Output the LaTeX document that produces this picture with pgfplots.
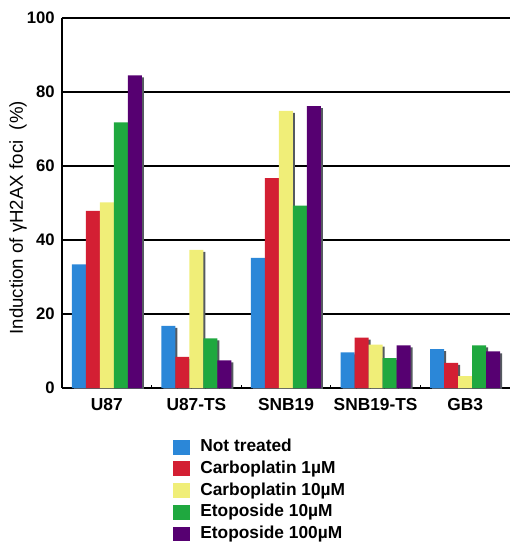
\documentclass[border=0pt]{standalone}
\usepackage{pgfplots}
\pgfplotsset{compat=1.18}
\usepackage{pgfplotstable}
\usepackage{fontspec}
\setmainfont{Liberation Sans}
\definecolor{cblue}{HTML}{2B87D8}
\definecolor{cred}{HTML}{D31F33}
\definecolor{cyellow}{HTML}{F0EE78}
\definecolor{cgreen}{HTML}{1FA83F}
\definecolor{cpurple}{HTML}{560071}
\definecolor{cshadow}{HTML}{555A60}
\pgfplotstableread{
g a b c d e
0 33.4 47.9 50.2 71.8 84.5
1 16.8 8.4 37.3 13.4 7.5
2 35.2 56.7 74.9 49.3 76.2
3 9.6 13.6 11.7 8.1 11.5
4 10.5 6.8 3.2 11.5 9.9
}\data
\pgfplotsset{
  mybar/.style={ybar, bar width=10.5pt, draw=none,
    legend image code/.code={\fill[##1] (0pt,-5.6pt) rectangle (12.75pt,5.6pt);}},
  shbar/.style={ybar, bar width=10.5pt, draw=none, fill=cshadow, yshift=-1.5pt, forget plot},
}
\begin{document}
\begin{tikzpicture}
\begin{axis}[name=ax, scale only axis, width=336pt, height=277.5pt,
  xmin=-0.5, xmax=4.5, ymin=0, ymax=100,
  ytick={0,20,...,100},
  xtick={0,...,4}, xticklabels={U87,U87-TS,SNB19,SNB19-TS,GB3},
  minor xtick={0.5,1.5,2.5,3.5},
  axis x line*=bottom, axis y line*=left,
  axis line style={line width=2pt},
  ymajorgrids, major grid style={black, line width=1.3pt},
  major tick length=0pt, minor tick length=2.5pt, tick align=inside,
  minor tick style={black, line width=0.8pt},
  /pgf/number format/assume math mode=true,
  yticklabel style={font=\bfseries\fontsize{12.5}{14}\selectfont, xshift=-2pt},
  xticklabel style={font=\bfseries\fontsize{13}{15}\selectfont, yshift=-4pt},
  ylabel={Induction of γH2AX foci\ \ (\%)},
  ylabel style={font=\fontsize{14}{16}\selectfont, at={(axis description cs:-0.098,0.46)}, anchor=center},
  legend style={at={(0.239,-0.13)}, anchor=north west, draw=none, fill=none,
    font=\bfseries\fontsize{13}{15}\selectfont, row sep=4.3pt,
    nodes={inner sep=0pt, text height=9.5pt, text depth=2.5pt},
    /tikz/every odd column/.append style={column sep=7.5pt}},
  legend cell align=left,
]
\addplot[shbar, bar shift=-19.5pt] table[x=g,y=a] {\data};
\addplot[shbar, bar shift=-9pt] table[x=g,y=b] {\data};
\addplot[shbar, bar shift=1.5pt] table[x=g,y=c] {\data};
\addplot[shbar, bar shift=12pt] table[x=g,y=d] {\data};
\addplot[shbar, bar shift=22.5pt] table[x=g,y=e] {\data};
\addplot[mybar, fill=cblue, bar shift=-21pt] table[x=g,y=a] {\data};
\addplot[mybar, fill=cred, bar shift=-10.5pt] table[x=g,y=b] {\data};
\addplot[mybar, fill=cyellow, bar shift=0pt] table[x=g,y=c] {\data};
\addplot[mybar, fill=cgreen, bar shift=10.5pt] table[x=g,y=d] {\data};
\addplot[mybar, fill=cpurple, bar shift=21pt] table[x=g,y=e] {\data};
\legend{Not treated, Carboplatin 1µM, Carboplatin 10µM, Etoposide 10µM, Etoposide 100µM}
\end{axis}
\draw[line width=2.2pt] (ax.north west) -- (ax.north east);
\pgfresetboundingbox
\path[use as bounding box] ([xshift=-46.5pt,yshift=-117pt]ax.south west) rectangle ([xshift=2.25pt,yshift=13.5pt]ax.north east);
\end{tikzpicture}
\end{document}
